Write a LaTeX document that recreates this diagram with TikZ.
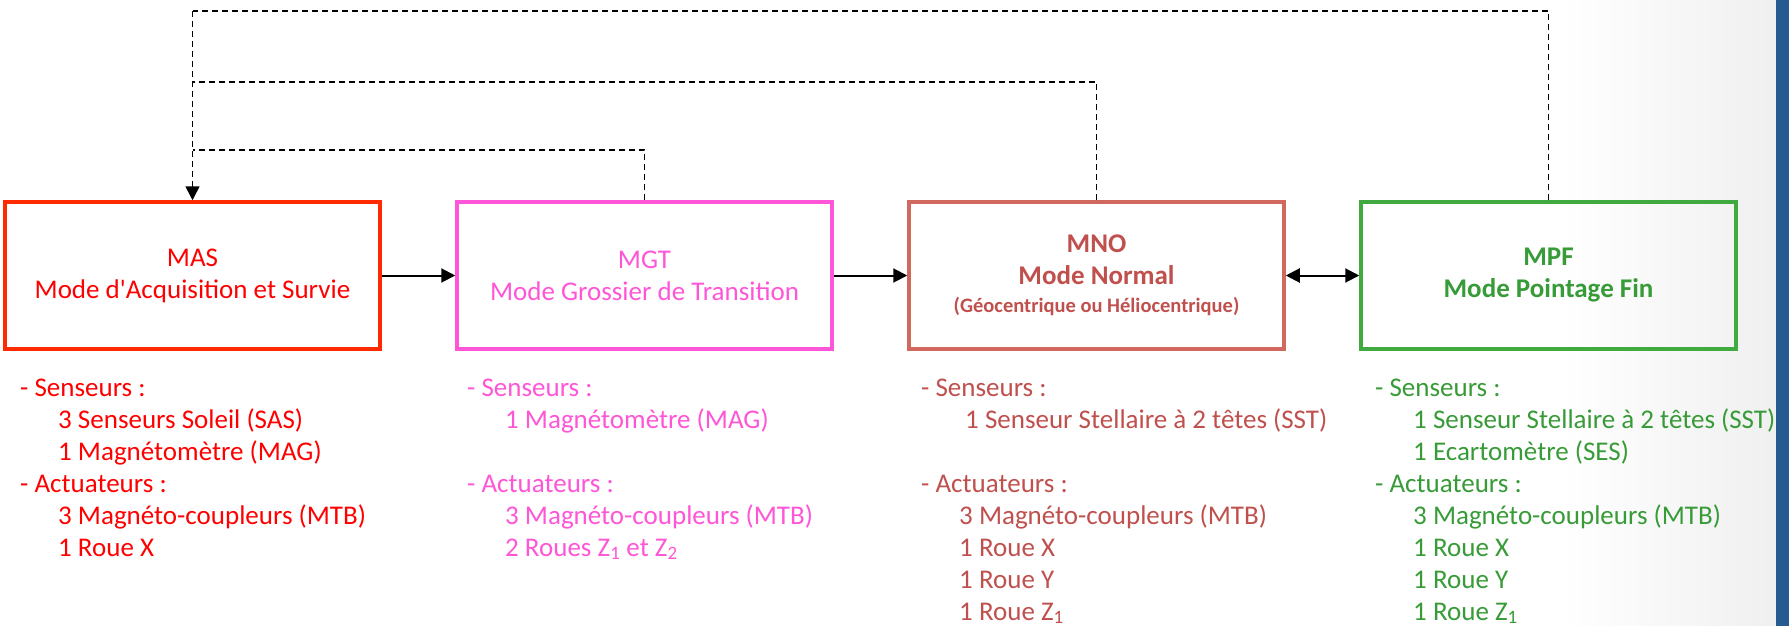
\documentclass[tikz,border=0pt]{standalone}
\usepackage{fontspec}
\setmainfont{Carlito}
\usetikzlibrary{arrows.meta}

\definecolor{masred}{RGB}{255,0,0}
\definecolor{masline}{RGB}{255,42,0}
\definecolor{mgtpink}{RGB}{255,85,215}
\definecolor{mnored}{RGB}{192,80,77}
\definecolor{mnoline}{RGB}{208,104,96}
\definecolor{mpfgreen}{RGB}{55,155,55}
\definecolor{mpfline}{RGB}{64,170,64}
\definecolor{sideblue}{RGB}{37,91,145}

\newcommand{\modeindent}{\hspace*{38pt}}

\tikzset{
  modebox/.style={draw,line width=3.5pt,minimum width=375pt,minimum height=147pt,
    align=center,inner sep=0pt,font=\fontsize{27}{32}\selectfont},
  listline/.style={anchor=base west,inner sep=0pt,font=\fontsize{27}{32}\selectfont},
  feedback/.style={line width=1.6pt,dash pattern=on 6pt off 4pt},
  transition/.style={line width=2pt},
  >={Triangle[length=14pt,width=14pt]}
}

\begin{document}
\begin{tikzpicture}[x=1pt,y=-1pt]
  \useasboundingbox (0,0) rectangle (1789,626);
  \fill[white] (0,0) rectangle (1789,626);
  \shade[left color=white,right color=black!6] (1560,0) rectangle (1776,626);
  \fill[sideblue] (1776,0) rectangle (1789,626);
  % the four modes
  \node[modebox,masline,text=masred] (mas) at (192.5,275.5) {MAS\\Mode d\textquotesingle Acquisition et Survie};
  \node[modebox,mgtpink] (mgt) at (644.5,275.5) {MGT\\Mode Grossier de Transition};
  \node[modebox,mnoline,text=mnored,font=\bfseries\fontsize{27}{32}\selectfont] (mno) at (1096.5,275.5)
    {MNO\\Mode Normal\\[-4pt]{\fontsize{20.5}{24}\selectfont(Géocentrique ou Héliocentrique)}};
  \node[modebox,mpfline,text=mpfgreen,font=\bfseries\fontsize{27}{32}\selectfont] (mpf) at (1548.5,275.5)
    {MPF\\Mode Pointage Fin};
  \draw[transition,->] (mas) -- (mgt);
  \draw[transition,->] (mgt) -- (mno);
  \draw[transition,<->] (mno) -- (mpf);
  % return to MAS
  \path (mas.north) ++(0,-189) coordinate (fbtop);
  \path (mas.north) ++(0,-118) coordinate (fbmid);
  \path (mas.north) ++(0,-50) coordinate (fblow);
  \draw[feedback] (mpf.north) |- (fbtop);
  \draw[feedback] (mno.north) |- (fbmid);
  \draw[feedback] (mgt.north) |- (fblow);
  \draw[feedback,->] (fbtop) -- (mas.north);
  % equipment lists
  \foreach \row/\txt in {0/- Senseurs :,1/\modeindent 3 Senseurs Soleil (SAS),2/\modeindent 1 Magnétomètre (MAG),
      3/- Actuateurs :,4/\modeindent 3 Magnéto-coupleurs (MTB),5/\modeindent 1 Roue X}
    \node[listline,masred] (maslist\row) at (20,396+32*\row) {\txt};
  \foreach \row/\txt in {0/- Senseurs :,1/\modeindent 1 Magnétomètre (MAG),
      3/- Actuateurs :,4/\modeindent 3 Magnéto-coupleurs (MTB),5/\modeindent 2 Roues Z\textsubscript{1} et Z\textsubscript{2}}
    \node[listline,mgtpink] (mgtlist\row) at (467,396+32*\row) {\txt};
  \foreach \row/\txt in {0/- Senseurs :,1/\hspace*{44pt}1 Senseur Stellaire à 2 têtes (SST),
      3/- Actuateurs :,4/\modeindent 3 Magnéto-coupleurs (MTB),5/\modeindent 1 Roue X,
      6/\modeindent 1 Roue Y,7/\modeindent 1 Roue Z\textsubscript{1}}
    \node[listline,mnored] (mnolist\row) at (921,396+32*\row) {\txt};
  \foreach \row/\txt in {0/- Senseurs :,1/\modeindent 1 Senseur Stellaire à 2 têtes (SST),
      2/\modeindent 1 Ecartomètre (SES),3/- Actuateurs :,4/\modeindent 3 Magnéto-coupleurs (MTB),
      5/\modeindent 1 Roue X,6/\modeindent 1 Roue Y,7/\modeindent 1 Roue Z\textsubscript{1}}
    \node[listline,mpfgreen] (mpflist\row) at (1375,396+32*\row) {\txt};
\end{tikzpicture}
\end{document}
